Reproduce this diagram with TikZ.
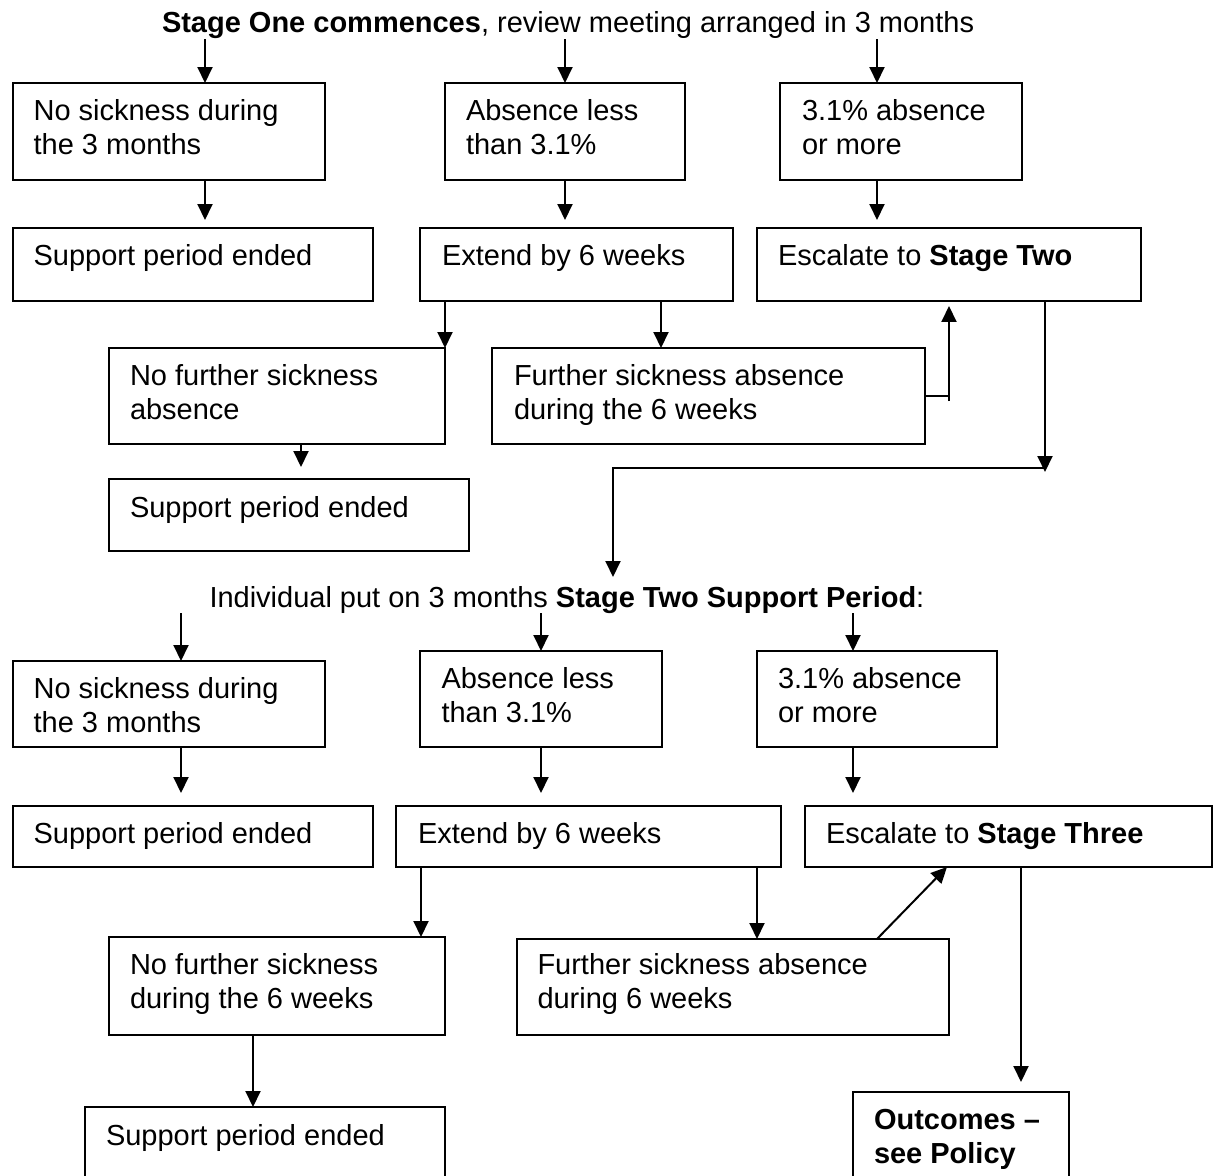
\documentclass[tikz,border=0pt]{standalone}
\usepackage{fontspec}
\setmainfont{Liberation Sans}
\usetikzlibrary{arrows.meta}
\newcommand\mybx[5]{\node[box, minimum width={(#4-#2)*0.02cm}, minimum height={(#5-#3)*0.02cm}] (#1) at (#2,#3) {};}
\newcommand\mytx[4]{\node[txt] (#1) at (#2,#3) {#4};}
\begin{document}
\begin{tikzpicture}[x=0.02cm,y=-0.02cm,
  box/.style={draw, line width=1.14pt, inner sep=0pt, outer sep=0pt, anchor=north west},
  txt/.style={inner sep=0pt, outer sep=0pt, anchor=base west, align=left, font=\fontsize{16.5pt}{18.8pt}\selectfont},
  arr/.style={line width=1.14pt, -{Triangle[length=0.32cm,width=0.3cm]}},
  ln/.style={line width=1.14pt}]
\fill[white] (0,0) rectangle (1215,1176);
\useasboundingbox (0,0) rectangle (1215,1176);
\clip (0,0) rectangle (1215,1176);

% titles
\mytx{t1}{162}{33}{\textbf{Stage One commences}, review meeting arranged in 3 months}
\mytx{t2}{209.5}{607}{Individual put on 3 months \textbf{Stage Two Support Period}:}

% stage one boxes
\mybx{a1}{13}{83}{325}{180}
\mybx{a2}{445}{83}{685}{180}
\mybx{a3}{780}{83}{1022}{180}
\mybx{b1}{13}{228}{373}{301}
\mybx{b2}{420}{228}{733}{301}
\mybx{b3}{757}{228}{1141}{301}
\mybx{c1}{109}{348}{445}{444}
\mybx{c2}{492}{348}{925}{444}
\mybx{d1}{109}{479}{469}{551}

% (multi-line texts: y is the baseline of the last line)
\mytx{a1t}{33.6}{154}{No sickness during\\the 3 months}
\mytx{a2t}{466}{154}{Absence less\\than 3.1\%}
\mytx{a3t}{802}{154}{3.1\% absence\\or more}
\mytx{b1t}{33.6}{266}{Support period ended}
\mytx{b2t}{442}{266}{Extend by 6 weeks}
\mytx{b3t}{778}{266}{Escalate to \textbf{Stage Two}}
\mytx{c1t}{130}{419}{No further sickness\\absence}
\mytx{c2t}{514}{419}{Further sickness absence\\during the 6 weeks}
\mytx{d1t}{130}{517}{Support period ended}

% stage two boxes
\mybx{e1}{13}{661}{325}{747}
\mybx{e2}{420}{651}{662}{747}
\mybx{e3}{757}{651}{997}{747}
\mybx{f1}{13}{806}{373}{867}
\mybx{f2}{396}{806}{781}{867}
\mybx{f3}{805}{806}{1212}{867}
\mybx{g1}{109}{937}{445}{1035}
\mybx{g2}{517}{939}{949}{1035}
\mybx{h1}{85}{1107}{445}{1200}
\mybx{h3}{853}{1092}{1069}{1200}

\mytx{e1t}{33.6}{732}{No sickness during\\the 3 months}
\mytx{e2t}{441.5}{722}{Absence less\\than 3.1\%}
\mytx{e3t}{778}{722}{3.1\% absence\\or more}
\mytx{f1t}{33.6}{843}{Support period ended}
\mytx{f2t}{418}{843}{Extend by 6 weeks}
\mytx{f3t}{826}{843}{Escalate to \textbf{Stage Three}}
\mytx{g1t}{130}{1008}{No further sickness\\during the 6 weeks}
\mytx{g2t}{537.5}{1008}{Further sickness absence\\during 6 weeks}
\mytx{h1t}{106}{1145}{Support period ended}
\mytx{h3t}{874}{1163}{\textbf{Outcomes –}\\\textbf{see Policy}}

% stage one connectors
\draw[arr] (t1.south -| 205,0) -- (a1.north -| 205,0);
\draw[arr] (t1.south -| 565,0) -- (a2.north -| 565,0);
\draw[arr] (t1.south -| 877,0) -- (a3.north -| 877,0);
\draw[arr, shorten >=0.16cm] (a1.south -| 205,0) -- (b1.north -| 205,0);
\draw[arr, shorten >=0.16cm] (a2.south -| 565,0) -- (b2.north -| 565,0);
\draw[arr, shorten >=0.16cm] (a3.south -| 877,0) -- (b3.north -| 877,0);
\draw[arr] (b2.south -| 445,0) -- (c1.north -| 445,0);
\draw[arr] (b2.south -| 661,0) -- (c2.north -| 661,0);
\draw[arr, shorten >=0.24cm] (c1.south -| 301,0) -- (d1.north -| 301,0);
\coordinate (k1) at (949,401);
\draw[ln] (c2.east) -- (c2.east -| k1);
\draw[arr, shorten >=0.1cm] (k1) -- (b3.south -| k1);
\coordinate (k2) at (1045,472);
\coordinate (k3) at (613,468);
\draw[arr] (b3.south -| k2) -- (k2);
\draw[arr, shorten >=0.18cm] (k2 |- k3) -- (k3) -- (t2.north -| k3);

% stage two connectors
\draw[arr] (t2.south -| 181,0) -- (e1.north -| 181,0);
\draw[arr] (t2.south -| 541,0) -- (e2.north -| 541,0);
\draw[arr] (t2.south -| 853,0) -- (e3.north -| 853,0);
\draw[arr, shorten >=0.26cm] (e1.south -| 181,0) -- (f1.north -| 181,0);
\draw[arr, shorten >=0.26cm] (e2.south -| 541,0) -- (f2.north -| 541,0);
\draw[arr, shorten >=0.26cm] (e3.south -| 853,0) -- (f3.north -| 853,0);
\draw[arr] (f2.south -| 421,0) -- (g1.north -| 421,0);
\draw[arr] (f2.south -| 757,0) -- (g2.north -| 757,0);
\draw[arr] (g1.south -| 253,0) -- (h1.north -| 253,0);
\draw[arr] (g2.north -| 877,0) -- (f3.south -| 947,0);
\draw[arr, shorten >=0.2cm] (f3.south -| 1021,0) -- (h3.north -| 1021,0);
\end{tikzpicture}
\end{document}
